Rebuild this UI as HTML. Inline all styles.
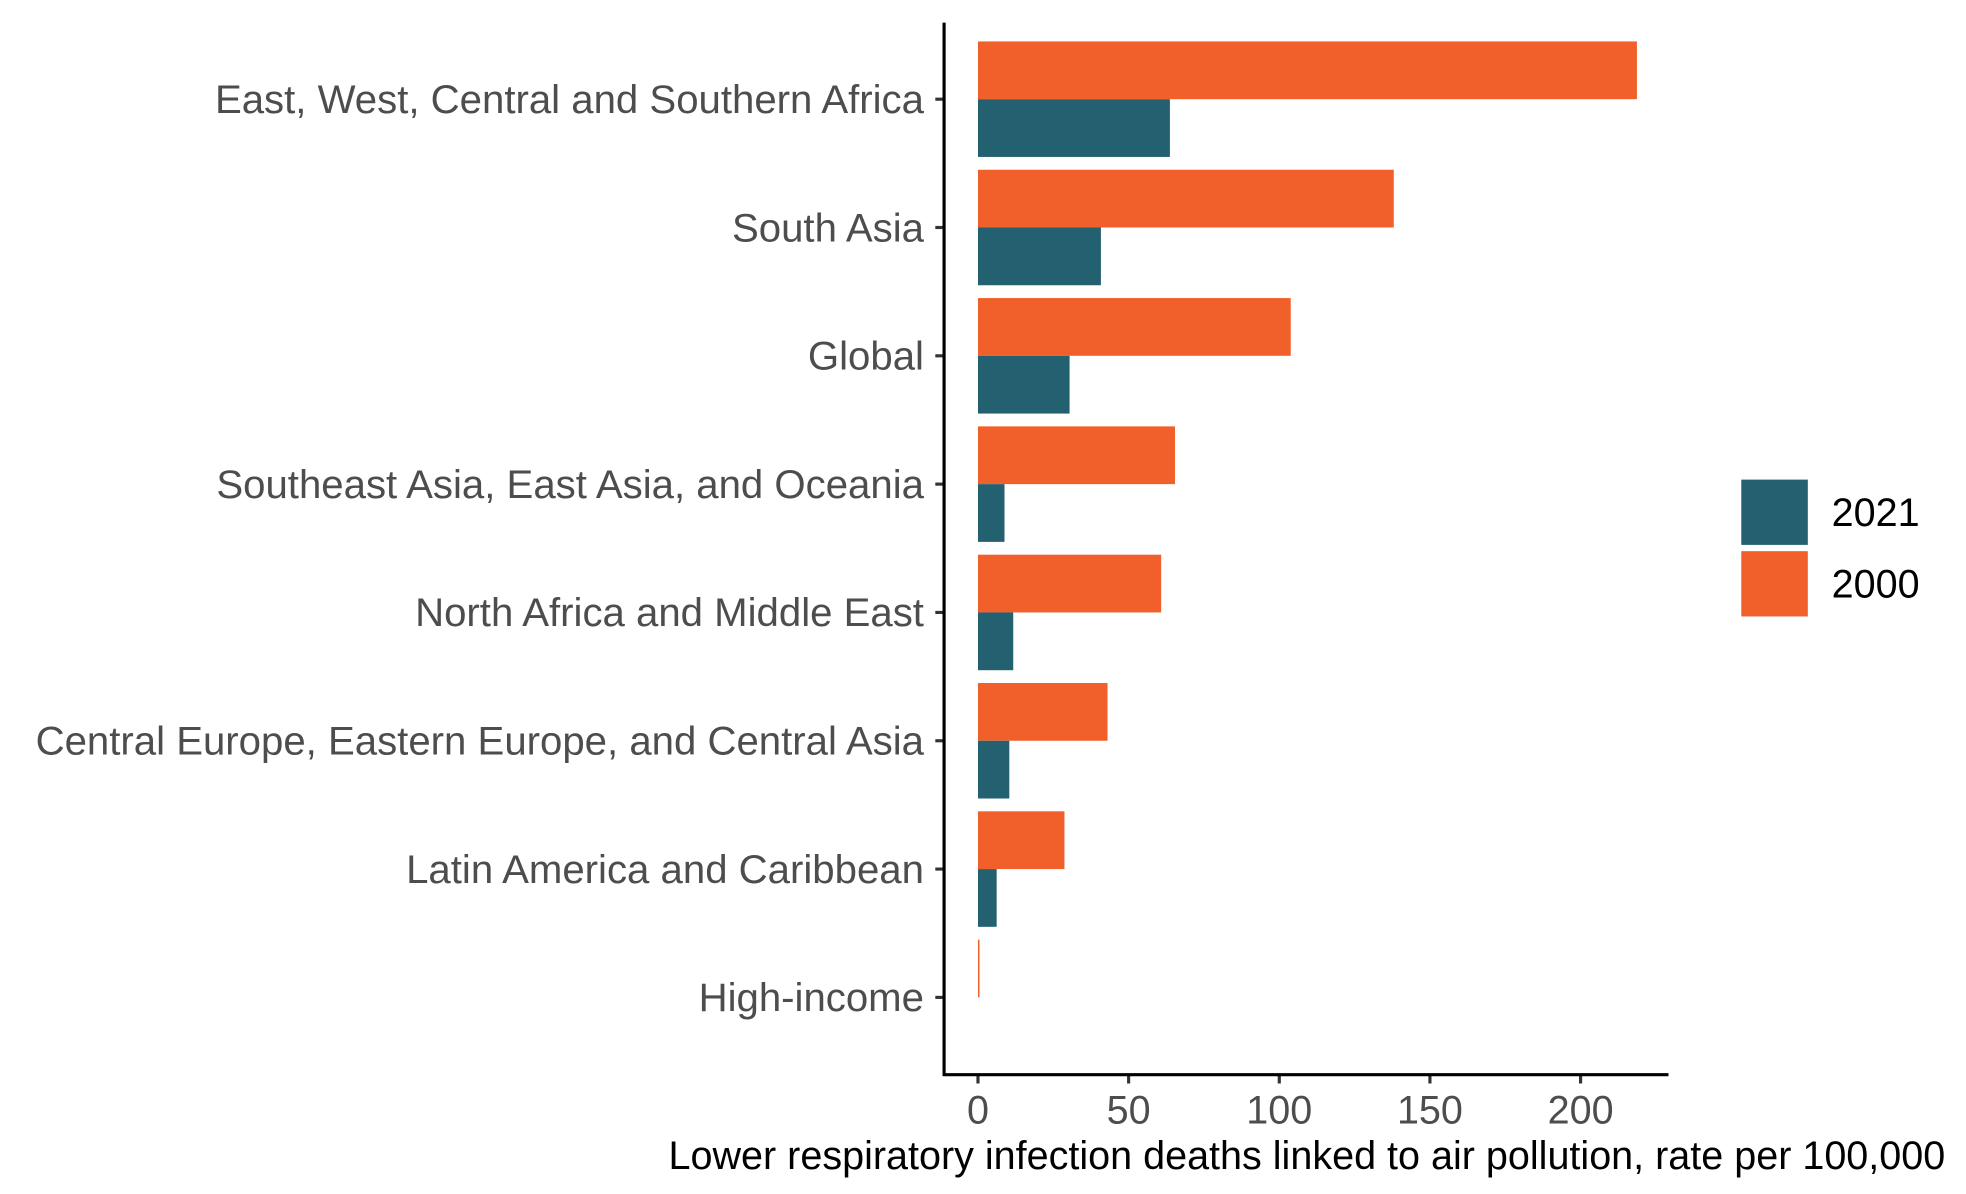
<!DOCTYPE html>
<html><head><meta charset="utf-8"><style>
html,body{margin:0;padding:0;background:#fff;}
svg{display:block;font-family:"Liberation Sans",sans-serif;}
</style></head><body>
<svg id="chart" width="1966" height="1194" viewBox="0 0 1566 951" preserveAspectRatio="none" xmlns="http://www.w3.org/2000/svg">
<g id="bars"></g>
<g id="axes"></g>
<g id="legend">
  <rect x="1387" y="382" width="53" height="52" fill="#236170"/>
  <text x="1459" y="419" font-size="31.5" fill="#000">2021</text>
  <rect x="1387" y="439" width="53" height="52" fill="#f15f2a"/>
  <text x="1459" y="476" font-size="31.5" fill="#000">2000</text>
</g>
<text x="1041" y="931" font-size="31.5" text-anchor="middle" fill="#000">Lower respiratory infection deaths linked to air pollution, rate per 100,000</text>
</svg>
<script>
const categories = ["East, West, Central and Southern Africa","South Asia","Global","Southeast Asia, East Asia, and Oceania","North Africa and Middle East","Central Europe, Eastern Europe, and Central Asia","Latin America and Caribbean","High-income"];
const values2000 = [218.7, 138, 103.8, 65.4, 60.8, 43, 28.7, 0.5];
const values2021 = [63.7, 40.8, 30.4, 8.8, 11.7, 10.4, 6.2, 0];
const xTicks = [0, 50, 100, 150, 200];

const NS = "http://www.w3.org/2000/svg";
const x = v => 779 + v * 2.4;
const yc = i => 79 + i * 102.2;
const half = 46;
function mk(tag, attrs, parent){const e=document.createElementNS(NS,tag);for(const k in attrs)e.setAttribute(k,attrs[k]);parent.appendChild(e);return e;}
const bars=document.getElementById('bars'), axes=document.getElementById('axes');
categories.forEach((c,i)=>{
  const b1=mk('rect',{x:x(0),y:yc(i)-half,width:Math.max(0,x(values2000[i])-x(0)),height:half,fill:'#f15f2a'},bars);
  
  
  const b2=mk('rect',{x:x(0),y:yc(i),width:Math.max(0,x(values2021[i])-x(0)),height:half,fill:'#236170'},bars);
  
  
  const t=mk('line',{x1:745,x2:752,y1:yc(i),y2:yc(i),stroke:'#333','stroke-width':2.5},axes);
  
  
  const l=mk('text',{x:736,y:yc(i)+11,'font-size':32,'text-anchor':'end',fill:'#4d4d4d'},axes);
  l.textContent=c;
  
  
});
xTicks.forEach(v=>{
  const t=mk('line',{x1:x(v),x2:x(v),y1:856,y2:863,stroke:'#333','stroke-width':2.5},axes);
  
  
  const l=mk('text',{x:x(v),y:895,'font-size':31.5,'text-anchor':'middle',fill:'#4d4d4d'},axes);
  l.textContent=v;
  
  
});
const ya=mk('line',{x1:752,x2:752,y1:18,y2:857,stroke:'#000','stroke-width':2.5},axes);


const xa=mk('line',{x1:751,x2:1329,y1:856,y2:856,stroke:'#000','stroke-width':2.5},axes);


</script>
</body></html>
